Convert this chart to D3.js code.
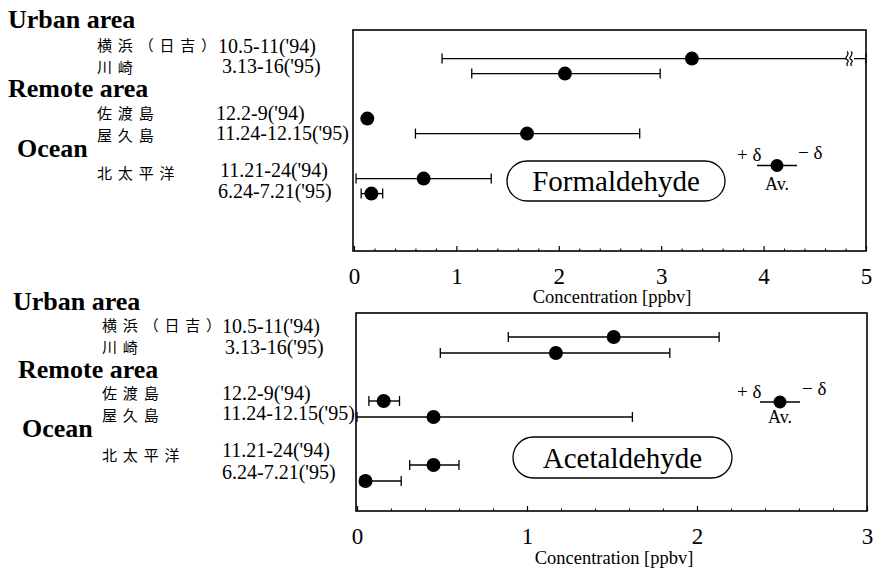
<!DOCTYPE html>
<html><head><meta charset="utf-8">
<script src="https://cdn.jsdelivr.net/npm/d3@7"></script>
<style>body{margin:0;background:#fff}</style>
</head><body><svg id="c" width="879" height="570"></svg>
<script>
// ---------- data ----------
const groups = ["Urban area", "Remote area", "Ocean"];
const rowGroup = [0, 0, 1, 1, 2, 2];
const siteNames = ["横浜（日吉）", "川崎", "佐渡島", "屋久島", "北太平洋", ""];
const periods = ["10.5-11('94)", "3.13-16('95)", "12.2-9('94)", "11.24-12.15('95)", "11.21-24('94)", "6.24-7.21('95)"];
const formAvg  = [3.30, 2.06, 0.13, 1.69, 0.68, 0.17];
const formLow  = [0.86, 1.15, null, 0.60, 0.02, 0.07];
const formHigh = [5.60, 2.99, null, 2.79, 1.34, 0.28];   // first upper bound is off-scale (axis break)
const acetAvg  = [1.51, 1.17, 0.157, 0.45, 0.45, 0.05];
const acetLow  = [0.89, 0.49, 0.07, 0.00, 0.31, 0.02];
const acetHigh = [2.13, 1.84, 0.25, 1.62, 0.60, 0.26];
const formTicks = [0, 1, 2, 3, 4, 5];
const acetTicks = [0, 1, 2, 3];
const compounds = ["Formaldehyde", "Acetaldehyde"];
const axisTitle = "Concentration [ppbv]";

// ---------- layout ----------
const SERIF = "'Liberation Serif','Times New Roman',serif";
const JP = "'Noto Sans CJK JP','Noto Sans CJK SC',sans-serif";
const panels = [
  { name: compounds[0], avg: formAvg, low: formLow, high: formHigh, ticks: formTicks,
    x0: 354, x1: 866, top: 30, bottom: 251, rowY0: 58.6, rowStep: 15,
    groupX: [8, 8, 17], groupBase: [28, 97, 157],
    siteX: 97, siteBase: [50.5, 73, 118.5, 141, 178.5, 0],
    dateX: [218, 222, 216, 216, 220, 218], dateBase: [53, 73, 120, 140, 177, 198],
    tickLabelBase: 284, titleBase: 303,
    box: { x: 507, y: 161, w: 218, h: 40 }, boxTextSize: 29,
    legend: { x1: 757, x2: 797, y: 165.5, plusX: 737, plusBase: 161, minusX: 798, minusBase: 159, avBase: 190 },
    domainMax: 5 },
  { name: compounds[1], avg: acetAvg, low: acetLow, high: acetHigh, ticks: acetTicks,
    x0: 357, x1: 867, top: 313, bottom: 511, rowY0: 337, rowStep: 16,
    groupX: [13, 18, 22], groupBase: [310, 378, 437],
    siteX: 102, siteBase: [331, 353, 398.5, 421, 461, 0],
    dateX: [222, 225, 222, 222, 222, 222], dateBase: [333, 354, 400, 420, 457, 479],
    tickLabelBase: 544, titleBase: 564,
    box: { x: 513, y: 437, w: 219, h: 41 }, boxTextSize: 29,
    legend: { x1: 760, x2: 800, y: 402, plusX: 737, plusBase: 398, minusX: 802, minusBase: 395, avBase: 423 },
    domainMax: 3 }
];

const svg = d3.select("#c");

panels.forEach(p => {
  const g = svg.append("g");
  const x = d3.scaleLinear().domain([0, p.domainMax]).range([p.x0, p.x1]).clamp(true);
  const y = d3.scaleLinear().domain([0, 9]).range([p.rowY0, p.rowY0 + 9 * p.rowStep]);
  const slot = i => i + 2 * rowGroup[i];

  // frame
  g.append("rect").attr("x", p.x0 - 1).attr("y", p.top)
    .attr("width", p.x1 - p.x0 + 1).attr("height", p.bottom - p.top)
    .attr("fill", "none").attr("stroke", "#000").attr("stroke-width", 1.6);

  // minor ticks
  const minor = d3.range(0, p.domainMax + 1e-9, 0.2).filter(v => Math.abs(v - Math.round(v)) > 1e-6);
  g.append("g").attr("transform", `translate(0,${p.bottom})`)
    .call(d3.axisBottom(x).tickValues(minor).tickSizeInner(-2.5).tickSizeOuter(0).tickFormat(""))
    .call(a => a.select(".domain").remove())
    .selectAll("line").attr("stroke-width", 1);
  // major ticks with labels
  g.append("g").attr("transform", `translate(0,${p.bottom})`)
    .call(d3.axisBottom(x).tickValues(p.ticks).tickSizeInner(-5).tickSizeOuter(0)
      .tickPadding(p.tickLabelBase - p.bottom - 16).tickFormat(d3.format("d")))
    .call(a => a.select(".domain").remove())
    .call(a => a.selectAll("line").attr("stroke-width", 1.2))
    .call(a => a.selectAll("text").attr("font-family", SERIF).attr("font-size", 23).attr("fill", "#000"));

  // axis title
  g.append("text").attr("x", (p.x0 + p.x1) / 2 + 2).attr("y", p.titleBase)
    .attr("text-anchor", "middle").attr("font-family", SERIF).attr("font-size", 18.5)
    .text(axisTitle);

  // group labels
  g.selectAll(".grp").data(groups).join("text")
    .attr("x", (d, i) => p.groupX[i]).attr("y", (d, i) => p.groupBase[i])
    .attr("font-family", SERIF).attr("font-weight", "bold").attr("font-size", 26)
    .text(d => d);

  // site names (character-spaced)
  g.selectAll(".site").data(siteNames).join("text")
    .attr("x", p.siteX).attr("y", (d, i) => p.siteBase[i])
    .attr("font-family", JP).attr("font-size", 15)
    .selectAll("tspan").data(d => Array.from(d)).join("tspan")
    .attr("dx", (c, k) => k === 0 ? 0 : 5.8)
    .text(c => c);

  // periods
  g.selectAll(".per").data(periods).join("text")
    .attr("x", (d, i) => p.dateX[i]).attr("y", (d, i) => p.dateBase[i])
    .attr("font-family", SERIF).attr("font-size", 20)
    .text(d => d);

  // error bars
  const rows = p.avg.map((v, i) => ({ i, avg: v, low: p.low[i], high: p.high[i] }));
  const eb = rows.filter(r => r.low != null);
  g.selectAll(".eb").data(eb).join("line")
    .attr("x1", r => x(r.low)).attr("x2", r => x(r.high))
    .attr("y1", r => y(slot(r.i))).attr("y2", r => y(slot(r.i)))
    .attr("stroke", "#000").attr("stroke-width", 1.4);
  const caps = eb.flatMap(r => [{ i: r.i, v: r.low }, { i: r.i, v: r.high }]);
  g.selectAll(".cap").data(caps).join("line")
    .attr("x1", c => x(c.v)).attr("x2", c => x(c.v))
    .attr("y1", c => y(slot(c.i)) - 5).attr("y2", c => y(slot(c.i)) + 5)
    .attr("stroke", "#000").attr("stroke-width", 1.3);

  // axis break marks for off-scale upper bounds
  const broken = eb.filter(r => r.high > p.domainMax);
  broken.forEach(r => {
    const yy = y(slot(r.i));
    const bx = x(p.domainMax) - 17;
    g.append("rect").attr("x", bx - 3).attr("y", yy - 2).attr("width", 8).attr("height", 4).attr("fill", "#fff");
    [bx - 2, bx + 2].forEach(sx => {
      g.append("path")
        .attr("d", `M${sx},${yy - 7} C${sx + 4},${yy - 4} ${sx - 4},${yy - 1} ${sx},${yy + 1} C${sx + 4},${yy + 3} ${sx - 3},${yy + 5} ${sx + 1},${yy + 7}`)
        .attr("fill", "none").attr("stroke", "#000").attr("stroke-width", 1.2);
    });
  });

  // average points
  g.selectAll(".dot").data(rows).join("circle")
    .attr("cx", r => x(r.avg)).attr("cy", r => y(slot(r.i))).attr("r", 7)
    .attr("fill", "#000");

  // compound label box
  g.append("rect").attr("x", p.box.x).attr("y", p.box.y).attr("width", p.box.w).attr("height", p.box.h)
    .attr("rx", p.box.h / 2).attr("ry", p.box.h / 2)
    .attr("fill", "#fff").attr("stroke", "#000").attr("stroke-width", 1.3);
  g.append("text").attr("x", p.box.x + p.box.w / 2).attr("y", p.box.y + p.box.h * 0.75)
    .attr("text-anchor", "middle").attr("font-family", SERIF).attr("font-size", p.boxTextSize)
    .text(p.name);

  // key
  const L = p.legend;
  g.append("line").attr("x1", L.x1).attr("x2", L.x2).attr("y1", L.y).attr("y2", L.y)
    .attr("stroke", "#000").attr("stroke-width", 1.4);
  g.append("circle").attr("cx", (L.x1 + L.x2) / 2).attr("cy", L.y).attr("r", 6.5).attr("fill", "#000");
  g.append("text").attr("x", L.plusX).attr("y", L.plusBase).attr("font-family", SERIF).attr("font-size", 19)
    .text("+ δ");
  g.append("text").attr("x", L.minusX).attr("y", L.minusBase).attr("font-family", SERIF).attr("font-size", 19)
    .text("− δ");
  g.append("text").attr("x", (L.x1 + L.x2) / 2).attr("y", L.avBase).attr("text-anchor", "middle")
    .attr("font-family", SERIF).attr("font-size", 18).text("Av.");
});
</script>
</body></html>
